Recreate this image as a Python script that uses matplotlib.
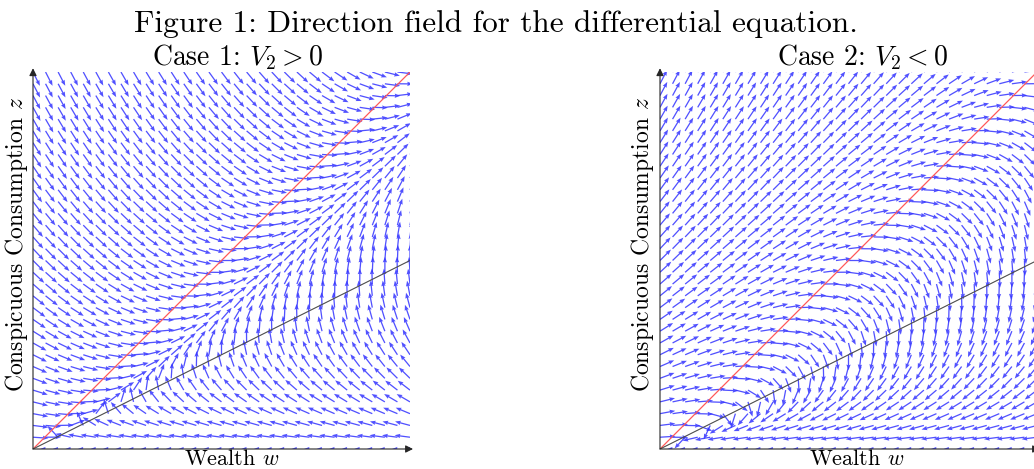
import numpy as np
import matplotlib
matplotlib.use("Agg")
import matplotlib.pyplot as plt

plt.rcParams['font.family'] = 'serif'
plt.rcParams['font.serif'] = ['cmr10']
plt.rcParams['mathtext.fontset'] = 'cm'

# sample grid for the direction field (wealth w, conspicuous consumption z)
w_samples = np.linspace(0, 1, 31)
z_samples = np.linspace(0, 1, 33)

# nullclines: dz = 0 along z = w (red), dw = 0 along z = 0.5 w (black)
slope_dz_null = 1.0
slope_dw_null = 0.5
dz_gain = 2.0

case_titles = ["Case 1: $V_2 > 0$", "Case 2: $V_2 < 0$"]
v2_signs = [1.0, -1.0]


def field(W, Z, sign):
    dw = Z - slope_dw_null * W
    dz = sign * dz_gain * Z * (slope_dz_null * W - Z)
    return dw, dz


W, Z = np.meshgrid(w_samples, z_samples)

fig = plt.figure(figsize=(10.34, 4.69), dpi=100)
fig_w, fig_h = 1034.0, 469.0

origins = [(33, 449), (660, 449)]
size_px = 377
title_x = [238, 863]
xlabel_x = [232, 857]
ylabel_x = [17, 642]

arrow_len = 0.041
for k in range(2):
    ox, oy = origins[k]
    ax = fig.add_axes([ox / fig_w, (fig_h - oy) / fig_h, size_px / fig_w, size_px / fig_h])
    ax.set_xlim(0, 1)
    ax.set_ylim(0, 1)
    for s in ax.spines.values():
        s.set_visible(False)
    ax.set_xticks([])
    ax.set_yticks([])
    ax.patch.set_alpha(0)

    dw, dz = field(W, Z, v2_signs[k])
    n = np.hypot(dw, dz)
    n[n == 0] = 1.0
    shrink = np.where(Z == 0, 0.35, 1.0)
    U = dw / n * arrow_len * shrink
    V = dz / n * arrow_len * shrink
    ax.quiver(W, Z, U, V, angles='xy', scale_units='xy', scale=1, units='xy',
              width=0.0034, headwidth=3.4, headlength=4.4, headaxislength=4.0,
              color=(0.2, 0.2, 1.0), alpha=0.85, zorder=2)

    ww = np.linspace(0, 1, 2)
    ax.plot(ww, slope_dz_null * ww, color=(1.0, 0.35, 0.35), lw=0.9, zorder=3)
    ax.plot(ww, slope_dw_null * ww, color=(0.3, 0.3, 0.3), lw=0.8, zorder=3)

    ax.annotate('', xy=(1.008, 0), xytext=(0, 0), xycoords='axes fraction',
                arrowprops=dict(arrowstyle='-|>', color='0.15', lw=0.8,
                                mutation_scale=11, shrinkA=0, shrinkB=0),
                annotation_clip=False, zorder=4)
    ax.annotate('', xy=(0, 1.01), xytext=(0, 0), xycoords='axes fraction',
                arrowprops=dict(arrowstyle='-|>', color='0.15', lw=0.8,
                                mutation_scale=11, shrinkA=0, shrinkB=0),
                annotation_clip=False, zorder=4)

    fig.text(title_x[k] / fig_w, 1 - 65 / fig_h, case_titles[k], ha='center',
             va='baseline', fontsize=20)
    fig.text(xlabel_x[k] / fig_w, 1 - 465 / fig_h, 'Wealth $w$', ha='center',
             va='baseline', fontsize=16)
    fig.text(ylabel_x[k] / fig_w, 1 - 244 / fig_h, 'Conspicuous Consumption $z$',
             ha='center', va='center', rotation=90, fontsize=17)

fig.text(496 / fig_w, 1 - 32 / fig_h,
         'Figure 1: Direction field for the differential equation.',
         ha='center', va='baseline', fontsize=22.5)

fig.savefig('out.png', dpi=100)
